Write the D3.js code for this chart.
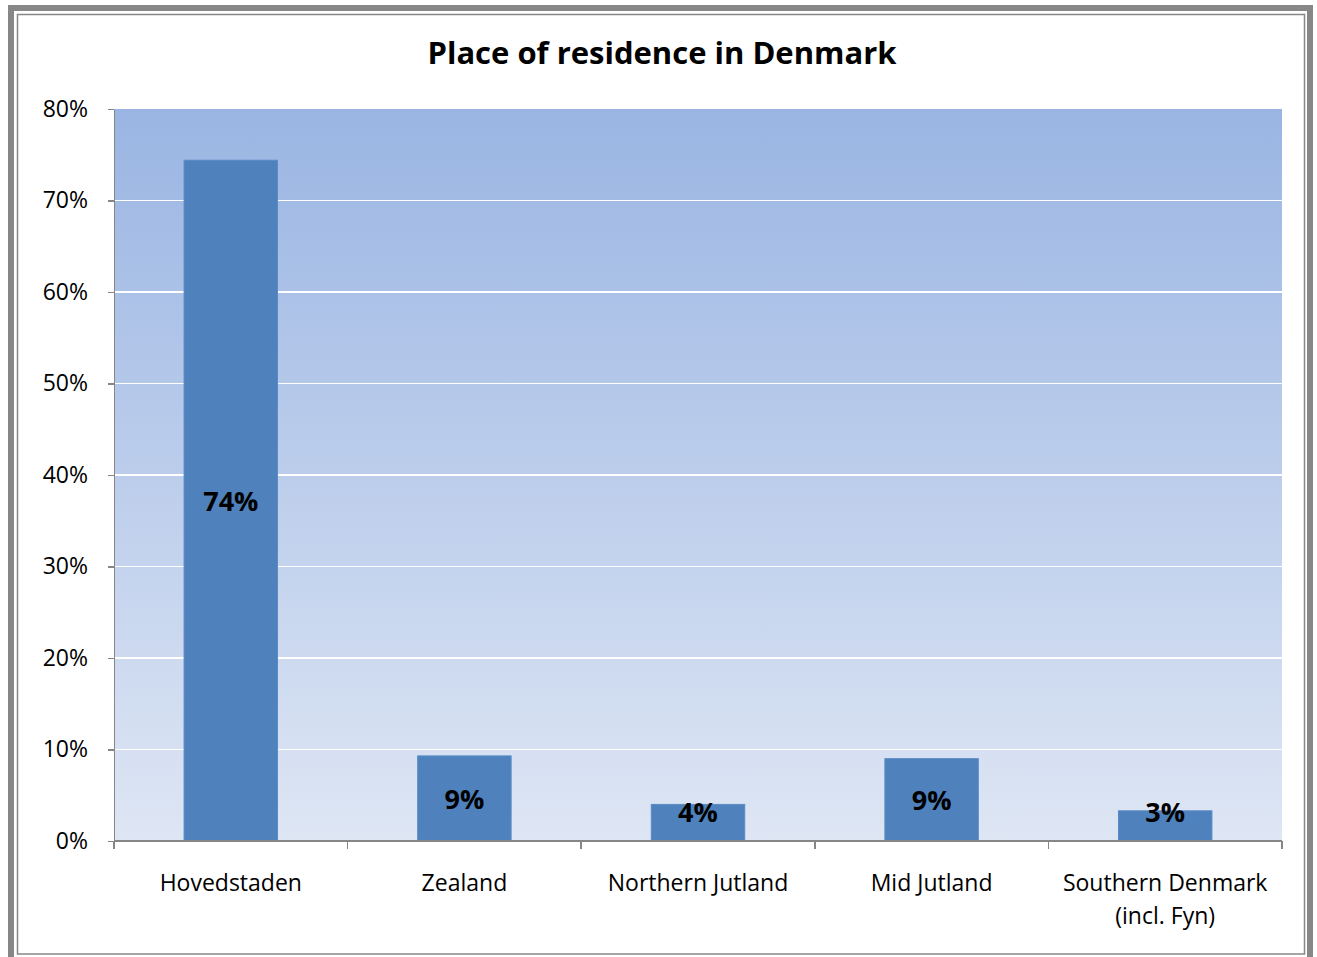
<!DOCTYPE html>
<html>
<head>
<meta charset="utf-8">
<script src="https://cdn.jsdelivr.net/npm/d3@7"></script>
<style>
body {
  margin: 0;
  background-color: white;
}
text {
  font-family: "Open Sans", sans-serif;
  fill: black;
}
.axis path,
.axis line {
  fill: none;
  stroke: #868686;
  stroke-width: 1.5;
  shape-rendering: crispEdges;
}
.axis text {
  font-size: 23px;
}
</style>
</head>
<body>
<script>
const categories = ["Hovedstaden", "Zealand", "Northern Jutland", "Mid Jutland", "Southern Denmark\n(incl. Fyn)"];
const shares = [74.4, 9.3, 4.0, 9.0, 3.3];
const shareLabels = ["74%", "9%", "4%", "9%", "3%"];
const yTicks = [0, 10, 20, 30, 40, 50, 60, 70, 80];
const title = "Place of residence in Denmark";

const W = 1317, H = 957;
const svg = d3.select("body")
              .append("svg")
              .attr("width", W)
              .attr("height", H);

// outer frame: thick grey line plus a thin inner line
svg.append("rect")
   .attr("x", 11).attr("y", 8)
   .attr("width", 1299).attr("height", 960)
   .attr("fill", "none")
   .attr("stroke", "#878787")
   .attr("stroke-width", 6);
svg.append("rect")
   .attr("x", 17.5).attr("y", 14.5)
   .attr("width", 1287).attr("height", 939.5)
   .attr("fill", "none")
   .attr("stroke", "#878787")
   .attr("stroke-width", 1.5);

const margin = {top: 109, left: 114, right: 1317 - 1282, bottom: 957 - 841};
const width = W - margin.left - margin.right;
const height = H - margin.top - margin.bottom;

const g = svg.append("g")
             .attr("transform", `translate(${margin.left}, ${margin.top})`);

const defs = svg.append("defs");
const grad = defs.append("linearGradient")
                 .attr("id", "bg")
                 .attr("x1", 0).attr("y1", 0).attr("x2", 0).attr("y2", 1);
grad.append("stop").attr("offset", "0%").attr("stop-color", "#9AB5E3");
grad.append("stop").attr("offset", "100%").attr("stop-color", "#DEE6F4");

const xScale = d3.scaleBand()
                 .domain(categories)
                 .range([0, width])
                 .paddingInner(0.6)
                 .paddingOuter(0.3);

const yScale = d3.scaleLinear()
                 .domain([0, 80])
                 .range([height, 0]);

g.append("rect")
 .attr("width", width)
 .attr("height", height)
 .attr("fill", "url(#bg)");

// gridlines
g.selectAll(".grid")
 .data(yTicks.filter(d => d > 0 && d < 80))
 .enter().append("line")
 .attr("x1", 0).attr("x2", width)
 .attr("y1", d => yScale(d)).attr("y2", d => yScale(d))
 .attr("stroke", "white")
 .attr("stroke-width", 1.5)
 .attr("shape-rendering", "crispEdges");

g.selectAll(".bar")
 .data(shares)
 .enter().append("rect")
 .attr("x", (d, i) => xScale(categories[i]))
 .attr("y", d => yScale(d))
 .attr("width", xScale.bandwidth())
 .attr("height", d => height - yScale(d))
 .attr("fill", "#4F81BD")
 .attr("stroke", "#5B8BC6")
 .attr("stroke-width", 1);

g.selectAll(".lbl")
 .data(shares)
 .enter().append("text")
 .attr("x", (d, i) => xScale(categories[i]) + xScale.bandwidth() / 2)
 .attr("y", d => Math.min((yScale(d) + height) / 2, height - 30))
 .attr("text-anchor", "middle")
 .attr("dominant-baseline", "central")
 .attr("font-weight", "bold")
 .attr("font-size", "27px")
 .text((d, i) => shareLabels[i]);

const yAxis = d3.axisLeft(yScale)
                .tickValues(yTicks)
                .tickFormat(d => d + "%")
                .tickSize(6)
                .tickSizeOuter(0)
                .tickPadding(20);

g.append("g")
 .attr("class", "axis")
 .call(yAxis);

// x axis with ticks at category boundaries
const xg = g.append("g")
            .attr("class", "axis")
            .attr("transform", `translate(0, ${height})`);
xg.append("line")
  .attr("x1", 0).attr("x2", width);
const step = xScale.step();
xg.selectAll(".tk")
  .data(d3.range(categories.length + 1))
  .enter().append("line")
  .attr("x1", i => i * step).attr("x2", i => i * step)
  .attr("y1", 0).attr("y2", 8);

xg.selectAll(".cat")
  .data(categories)
  .enter().append("text")
  .attr("x", d => xScale(d) + xScale.bandwidth() / 2)
  .attr("y", 50)
  .attr("text-anchor", "middle")
  .each(function(d) {
    const lines = d.split("\n");
    d3.select(this).selectAll("tspan")
      .data(lines)
      .enter().append("tspan")
      .attr("x", xScale(d) + xScale.bandwidth() / 2)
      .attr("dy", (l, j) => j === 0 ? 0 : 33)
      .text(l => l);
  });

svg.append("text")
   .attr("x", 662)
   .attr("y", 64)
   .attr("text-anchor", "middle")
   .attr("font-weight", "bold")
   .attr("font-size", "31px")
   .text(title);
</script>
</body>
</html>
